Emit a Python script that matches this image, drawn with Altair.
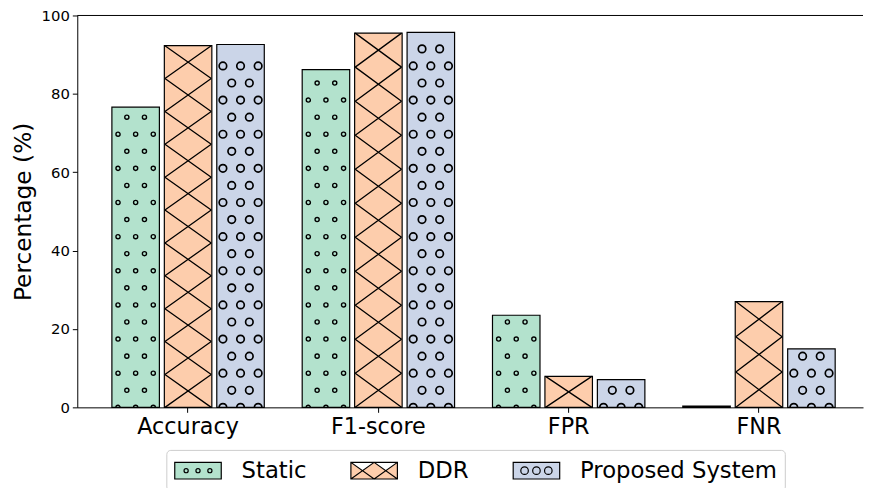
import altair as alt
import pandas as pd

# ---------------- data ----------------
METRICS = ["Accuracy", "F1-score", "FPR", "FNR"]
SERIES = ["Static", "DDR", "Proposed System"]
STATIC = [76.6, 86.2, 23.5, 0.3]
DDR = [92.3, 95.5, 7.9, 27.0]
PROPOSED = [92.6, 95.7, 7.1, 14.9]
COLORS = ["#b3e2cd", "#fdcdac", "#cbd5e8"]
Y_TICKS = [0, 20, 40, 60, 80, 100]

# ---------------- layout / style ----------------
PLOT_W, PLOT_H = 794, 396
Y_MAX = 100
PX = PLOT_H / Y_MAX          # pixels per percentage point
FONT = "DejaVu Sans"

# hatch styles (pixels)
ROW_PX = 17.25               # circle hatch row pitch
COL_PX = 8.9                 # circle hatch half column pitch
R_SMALL, R_BIG = 2.1, 3.8    # 'o' and 'O' hatch radii
CELL_PX = 33.4               # 'x' hatch cell height
HW = 23.4                    # half bar width used by the 'x' hatch


def circle_path(cxs, r):
    parts = []
    for cx in cxs:
        parts.append(f"M{cx - r:.2f},0A{r},{r} 0 1,1 {cx + r:.2f},0A{r},{r} 0 1,1 {cx - r:.2f},0")
    return "".join(parts)


def circle_rows(values, r):
    even = circle_path([-2 * COL_PX, 0, 2 * COL_PX], r)
    odd = circle_path([-COL_PX, COL_PX], r)
    rows = []
    for m, v in zip(METRICS, values):
        k = 0
        while True:
            y = k * ROW_PX / PX
            if y + (r + 1.2) / PX > v:
                break
            rows.append({"metric": m, "value": y, "shape": even if k % 2 == 0 else odd})
            k += 1
    return pd.DataFrame(rows)


def cross_tiles(values):
    rows = []
    for m, v in zip(METRICS, values):
        n = max(1, round(v * PX / CELL_PX))
        h = v / n
        hh = h * PX / 2
        path = f"M{-HW},{-hh:.2f}L{HW},{hh:.2f}M{-HW},{hh:.2f}L{HW},{-hh:.2f}"
        for i in range(n):
            rows.append({"metric": m, "value": (i + 0.5) * h, "shape": path})
    return pd.DataFrame(rows)


bars_df = pd.DataFrame(
    [{"metric": m, "series": s, "value": v}
     for s, vals in zip(SERIES, [STATIC, DDR, PROPOSED])
     for m, v in zip(METRICS, vals)]
)

# ---------------- scales / axes ----------------
x_scale = alt.Scale(domain=METRICS, paddingInner=0.1732, paddingOuter=0.1511, align=0.559)
xo_scale = alt.Scale(domain=SERIES, paddingInner=0.0943, paddingOuter=0.0472)
y_scale = alt.Scale(domain=[0, Y_MAX], nice=False, zero=True)
color_scale = alt.Scale(domain=SERIES, range=COLORS)

x_axis = alt.Axis(title=None, labelFontSize=22.5, labelAngle=0, tickSize=5,
                  labelPadding=3, domainWidth=1, grid=False, labelFont=FONT,
                  labelColor="black", domainColor="black", tickColor="black")
y_axis = alt.Axis(title="Percentage (%)", values=Y_TICKS, labelFontSize=15,
                  titleFontSize=23.5, titleFontWeight="normal", tickSize=5,
                  labelPadding=3, titlePadding=6, domainWidth=1, grid=False,
                  labelFont=FONT, titleFont=FONT, labelColor="black",
                  titleColor="black", domainColor="black", tickColor="black")

# legend symbols (unit = 12 px, symbolSize 576)
U = 12.0
rect = f"M{-23.5/U:.3f},{-8.4/U:.3f}H{23.5/U:.3f}V{8.4/U:.3f}H{-23.5/U:.3f}Z"


def leg_circles(r):
    out = ""
    for cx in (-12, 0, 12):
        a, b, rr = (cx - r) / U, (cx + r) / U, r / U
        out += f"M{a:.3f},0A{rr:.3f},{rr:.3f} 0 1,1 {b:.3f},0A{rr:.3f},{rr:.3f} 0 1,1 {a:.3f},0"
    return out


w, h = 23.5 / U, 8.4 / U
LEGEND_PATHS = [
    rect + leg_circles(R_SMALL),
    rect + f"M{-w:.3f},{-h:.3f}L0,{h:.3f}L{w:.3f},{-h:.3f}M{-w:.3f},{h:.3f}L0,{-h:.3f}L{w:.3f},{h:.3f}",
    rect + leg_circles(R_BIG),
]

LEG = alt.Legend(
    title=None, orient="none", legendX=90, legendY=439, direction="horizontal",
    labelFont=FONT, labelFontSize=23, labelColor="black", labelLimit=400,
    symbolSize=576, symbolStrokeColor="black", symbolStrokeWidth=1.2,
    symbolOffset=11, labelOffset=31, columnPadding=42, padding=8,
    strokeColor="#cccccc", fillColor="white", cornerRadius=4,
)

# ---------------- layers ----------------
bars = alt.Chart(bars_df).mark_bar(stroke="black", strokeWidth=1.2).encode(
    x=alt.X("metric:N", sort=METRICS, scale=x_scale, axis=x_axis),
    xOffset=alt.XOffset("series:N", sort=SERIES, scale=xo_scale),
    y=alt.Y("value:Q", scale=y_scale, axis=y_axis),
    fill=alt.Fill("series:N", scale=color_scale, legend=LEG),
)


def hatch_layer(df, series_idx, stroke_w):
    return alt.Chart(df).mark_point(
        filled=False, stroke="black", strokeWidth=stroke_w, size=4, opacity=1, clip=True
    ).encode(
        x=alt.X("metric:N", sort=METRICS, scale=x_scale, axis=x_axis,
                bandPosition=(series_idx + 0.5) / 3),
        y=alt.Y("value:Q", scale=y_scale, axis=y_axis),
        shape=alt.Shape("shape:N", scale=None),
    )


hatch_static = hatch_layer(circle_rows(STATIC, R_SMALL), 0, 1.4)
hatch_ddr = hatch_layer(cross_tiles(DDR), 1, 1.3)
hatch_prop = hatch_layer(circle_rows(PROPOSED, R_BIG), 2, 1.7)

top_spine = alt.Chart(pd.DataFrame({"value": [Y_MAX]})).mark_rule(
    color="black", strokeWidth=1
).encode(y=alt.Y("value:Q", scale=y_scale, axis=y_axis))

legend_layer = alt.Chart(bars_df).transform_filter("false").mark_point(
    filled=True, opacity=1, stroke="black"
).encode(
    fill=alt.Fill("series:N", scale=color_scale, legend=LEG),
    shape=alt.Shape("series:N", scale=alt.Scale(domain=SERIES, range=LEGEND_PATHS), legend=LEG),
)

chart = alt.layer(
    bars, hatch_static, hatch_ddr, hatch_prop, top_spine, legend_layer
).properties(
    width=PLOT_W, height=PLOT_H, background="white",
    padding={"left": 3, "top": -2, "right": 0, "bottom": 0},
).configure_view(stroke=None).configure_axis(
    labelFont=FONT, titleFont=FONT, labelColor="black", titleColor="black",
    domainColor="black", tickColor="black", grid=False,
)

chart.save("out.html", embed_options={"renderer": "svg", "actions": False})
